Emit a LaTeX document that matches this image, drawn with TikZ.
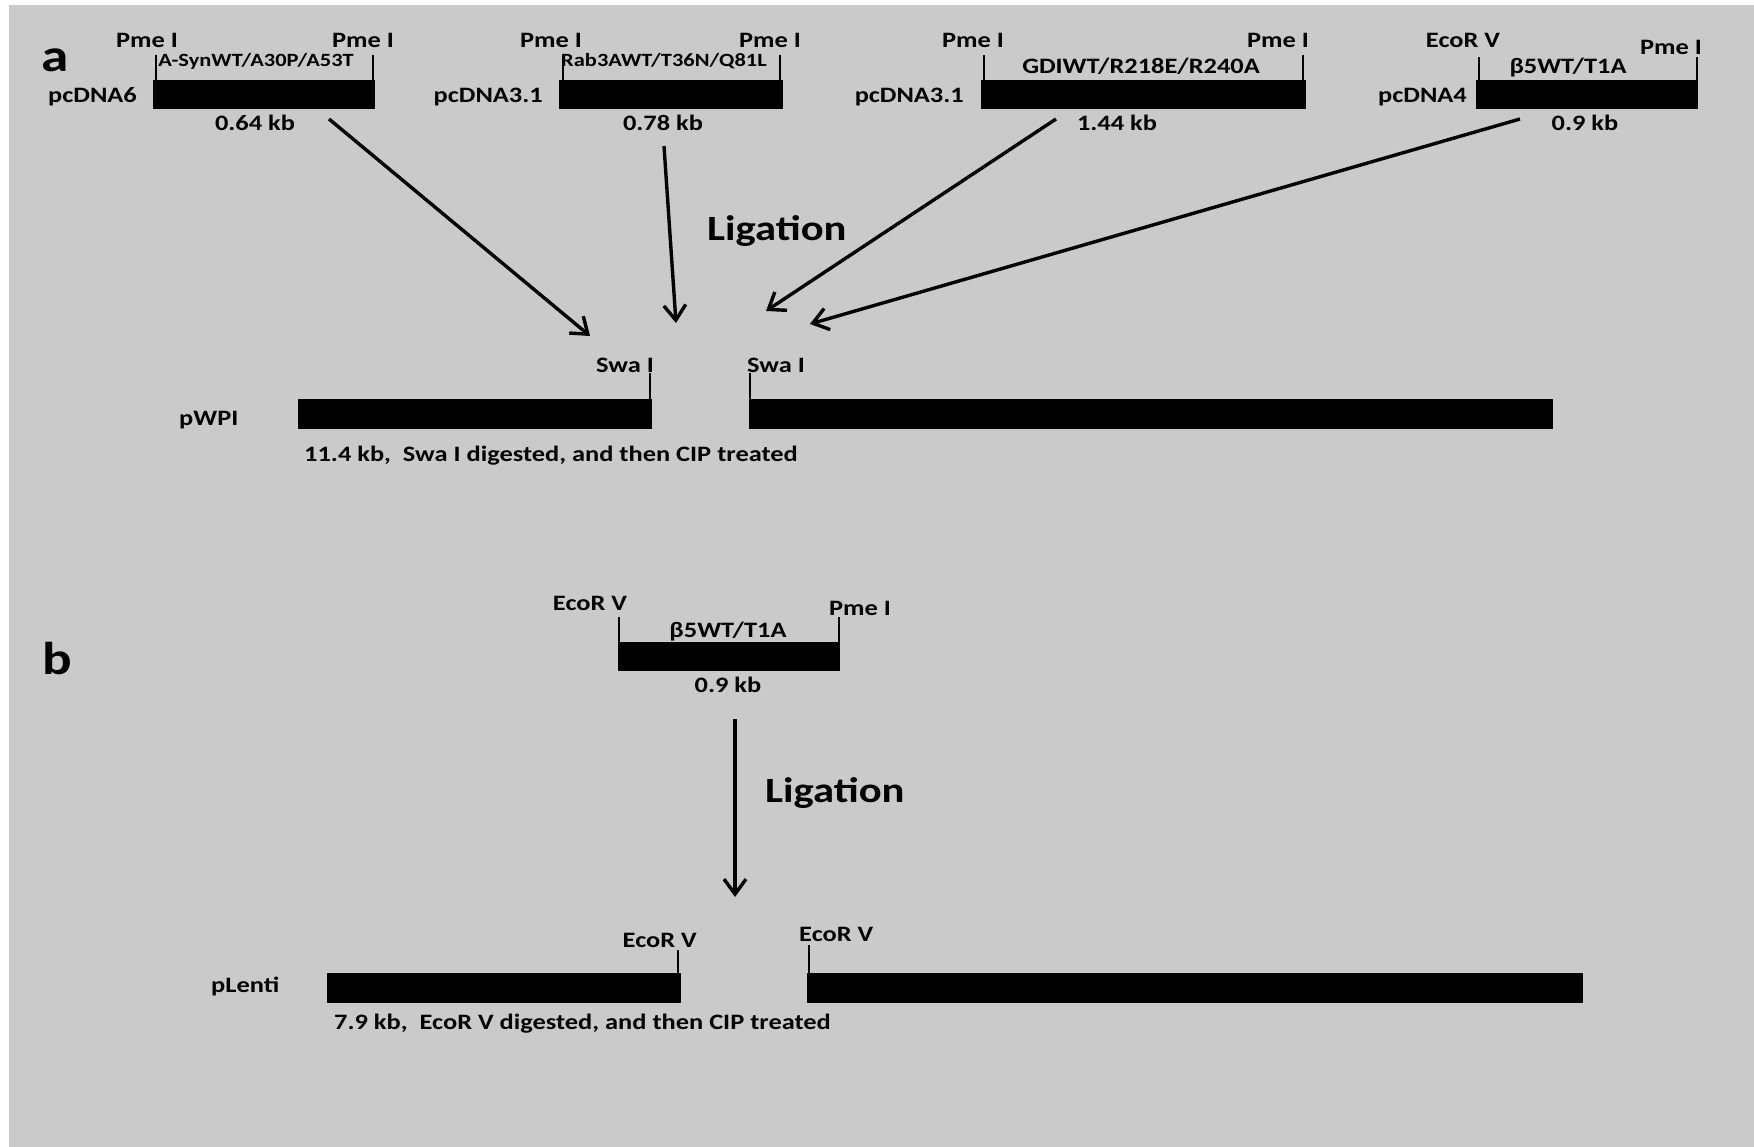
\documentclass[tikz,border=0pt]{standalone}
\usepackage{fontspec}
\setmainfont{Carlito}[FakeStretch=1.2]
\usetikzlibrary{arrows.meta}
\definecolor{bggrey}{RGB}{202,202,202}
\tikzset{
  lbl/.style={font=\bfseries\fontsize{22}{24}\selectfont, inner sep=0pt, anchor=base},
  small/.style={font=\bfseries\fontsize{18.7}{21}\selectfont, inner sep=0pt, anchor=base},
  big/.style={font=\bfseries\fontsize{35.5}{40}\selectfont, inner sep=0pt, anchor=base west},
  panel/.style={font=\bfseries\fontsize{46}{48}\selectfont, inner sep=0pt, anchor=base west},
  barfill/.style={fill=black},
  tick/.style={draw=black, line width=1.2pt},
  ligarrow/.style={draw=black, line width=3.4pt, -{Straight Barb[length=15pt,width=22pt]}},
}
\begin{document}
\begin{tikzpicture}[x=1pt,y=-1pt]
\useasboundingbox (0,0) rectangle (1754,1147);
\fill[white] (0,0) rectangle (1754,1147);
\fill[bggrey] (9,5) rectangle (1754,1147);

% ---------- panel a ----------
\node[panel] (pa) at (41,72) {a};

% insert 1
\node[lbl, anchor=base east] (v1) at (137,103) {pcDNA6};
\node[lbl] (s1l) at (147,48) {Pme I};
\node[lbl] (s1r) at (363,48) {Pme I};
\draw[tick] (156,55) -- (156,80);
\draw[tick] (373,55) -- (373,80);
\node[small] (g1) at (256,67) {A-SynWT/A30P/A53T};
\fill[barfill] (153,80) rectangle (375,109);
\node[lbl] (k1) at (255,131) {0.64 kb};

% insert 2
\node[lbl, anchor=base east] (v2) at (543,103) {pcDNA3.1};
\node[lbl] (s2l) at (551,48) {Pme I};
\node[lbl] (s2r) at (770,48) {Pme I};
\draw[tick] (563,55) -- (563,80);
\draw[tick] (780,55) -- (780,80);
\node[small] (g2) at (664,67) {Rab3AWT/T36N/Q81L};
\fill[barfill] (559,80) rectangle (783,109);
\node[lbl] (k2) at (663,131) {0.78 kb};

% insert 3
\node[lbl, anchor=base east] (v3) at (964,103) {pcDNA3.1};
\node[lbl] (s3l) at (973,48) {Pme I};
\node[lbl] (s3r) at (1278,48) {Pme I};
\draw[tick] (984,55) -- (984,80);
\draw[tick] (1303,55) -- (1303,80);
\node[lbl] (g3) at (1141,74) {GDIWT/R218E/R240A};
\fill[barfill] (981,80) rectangle (1306,109);
\node[lbl] (k3) at (1117,131) {1.44 kb};

% insert 4
\node[lbl, anchor=base east] (v4) at (1467,103) {pcDNA4};
\node[lbl] (s4l) at (1463,48) {EcoR V};
\node[lbl] (s4r) at (1671,55) {Pme I};
\draw[tick] (1479,57) -- (1479,80);
\draw[tick] (1697,57) -- (1697,80);
\node[lbl] (g4) at (1568,74) {β5WT/T1A};
\fill[barfill] (1476,80) rectangle (1698,109);
\node[lbl] (k4) at (1585,131) {0.9 kb};

% arrows
\coordinate (a1s) at (329,119);  \coordinate (a1e) at (590,336);
\coordinate (a2s) at (664,146);  \coordinate (a2e) at (676,323);
\coordinate (a3s) at (1056,119); \coordinate (a3e) at (766,311);
\coordinate (a4s) at (1520,119); \coordinate (a4e) at (810,324);
\draw[ligarrow] (a1s) -- (a1e);
\draw[ligarrow] (a2s) -- (a2e);
\draw[ligarrow] (a3s) -- (a3e);
\draw[ligarrow] (a4s) -- (a4e);
\node[big] (liga) at (707,241) {Ligation};

% pWPI
\node[lbl, anchor=base west] (pwpi) at (179,425) {pWPI};
\fill[barfill] (298,399) rectangle (652,429);
\fill[barfill] (749,399) rectangle (1553,429);
\node[lbl, anchor=base east] (swl) at (654,373) {Swa I};
\node[lbl, anchor=base west] (swr) at (747,373) {Swa I};
\draw[tick] (650,373) -- (650,399);
\draw[tick] (750,373) -- (750,399);
\node[lbl, anchor=base west] (capa) at (304,461) {11.4 kb,\ \ Swa I digested, and then CIP treated};

% ---------- panel b ----------
\node[panel] (pb) at (42,674) {b};
\node[lbl] (bs1) at (590,610) {EcoR V};
\node[lbl] (bs2) at (860,615) {Pme I};
\draw[tick] (619,617) -- (619,642);
\draw[tick] (839,617) -- (839,642);
\node[lbl] (bg) at (728,637) {β5WT/T1A};
\fill[barfill] (618,642) rectangle (840,671);
\node[lbl] (bk) at (728,692) {0.9 kb};

\coordinate (b1s) at (735,719); \coordinate (b1e) at (735,897);
\draw[ligarrow] (b1s) -- (b1e);
\node[big] (ligb) at (765,802) {Ligation};

\node[lbl, anchor=base west] (plenti) at (211,992) {pLenti};
\fill[barfill] (327,973) rectangle (681,1003);
\fill[barfill] (807,973) rectangle (1583,1003);
\node[lbl, anchor=base east] (ecl) at (697,947) {EcoR V};
\node[lbl, anchor=base west] (ecr) at (799,941) {EcoR V};
\draw[tick] (678,950) -- (678,973);
\draw[tick] (809,945) -- (809,973);
\node[lbl, anchor=base west] (capb) at (334,1029) {7.9 kb,\ \ EcoR V digested, and then CIP treated};
\end{tikzpicture}
\end{document}
